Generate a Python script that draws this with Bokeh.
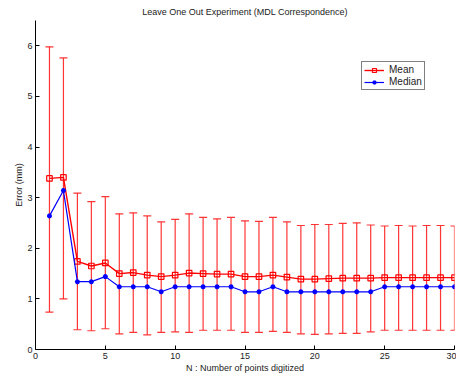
from bokeh.plotting import figure
from bokeh.models import Range1d, Legend, LegendItem, FixedTicker
from bokeh.embed import file_html
from bokeh.resources import INLINE

n_points = list(range(1, 31))
mean_err = [3.38, 3.40, 1.74, 1.65, 1.71, 1.50, 1.52, 1.47, 1.44, 1.47,
            1.51, 1.50, 1.49, 1.49, 1.44, 1.44, 1.47, 1.43, 1.39, 1.39,
            1.40, 1.41, 1.41, 1.41, 1.42, 1.42, 1.42, 1.42, 1.42, 1.42]
median_err = [2.64, 3.14, 1.34, 1.34, 1.44, 1.24, 1.24, 1.24, 1.14, 1.24,
              1.24, 1.24, 1.24, 1.24, 1.14, 1.14, 1.24, 1.14, 1.14, 1.14,
              1.14, 1.14, 1.14, 1.14, 1.24, 1.24, 1.24, 1.24, 1.24, 1.24]
upper_err = [5.98, 5.76, 3.09, 2.92, 3.02, 2.68, 2.70, 2.64, 2.52, 2.57,
             2.68, 2.61, 2.58, 2.61, 2.54, 2.53, 2.61, 2.52, 2.45, 2.47,
             2.47, 2.49, 2.50, 2.46, 2.44, 2.45, 2.44, 2.45, 2.45, 2.44]
lower_err = [0.74, 1.00, 0.39, 0.37, 0.41, 0.31, 0.34, 0.29, 0.34, 0.35,
             0.34, 0.38, 0.38, 0.38, 0.34, 0.34, 0.36, 0.34, 0.31, 0.30,
             0.31, 0.32, 0.32, 0.35, 0.38, 0.38, 0.38, 0.38, 0.38, 0.38]
x_ticks = [0, 5, 10, 15, 20, 25, 30]
y_ticks = [0, 1, 2, 3, 4, 5, 6]

FONT = "Liberation Sans"

p = figure(width=456, height=379, output_backend="svg", toolbar_location=None,
           x_range=Range1d(0, 30), y_range=Range1d(0, 6.5),
           min_border_left=35, min_border_right=2, min_border_top=20, min_border_bottom=30,
           title="Leave One Out Experiment (MDL Correspondence)")
p.outline_line_color = None
p.grid.visible = False
p.background_fill_color = "white"

p.title.align = "center"
p.title.text_font = FONT
p.title.text_font_size = "9px"
p.title.text_font_style = "normal"
p.title.text_color = "#222222"
p.title.standoff = 8
p.title.offset = 0

for ax, ticks in ((p.xaxis[0], x_ticks), (p.yaxis[0], y_ticks)):
    ax.ticker = FixedTicker(ticks=ticks)
    ax.major_tick_in = 4
    ax.major_tick_out = 0
    ax.minor_tick_line_color = None
    ax.axis_line_color = "black"
    ax.major_tick_line_color = "black"
    ax.major_label_text_font = FONT
    ax.major_label_text_font_size = "9px"
    ax.major_label_text_color = "#222222"
    ax.axis_label_text_font = FONT
    ax.axis_label_text_font_size = "9px"
    ax.axis_label_text_font_style = "normal"
    ax.axis_label_text_color = "#222222"

p.xaxis.axis_label = "N : Number of points digitized"
p.yaxis.axis_label = "Error (mm)"
p.xaxis.major_label_standoff = 3
p.yaxis.major_label_standoff = 3
p.xaxis.axis_label_standoff = 1
p.yaxis.axis_label_standoff = 0

ERR = "#ff2020"
p.segment(x0=n_points, y0=lower_err, x1=n_points, y1=upper_err,
          line_color=ERR, line_width=1.2, line_alpha=0.9)
p.scatter(x=n_points, y=upper_err, marker="dash", size=8, line_color=ERR, line_width=1.2, line_alpha=0.9)
p.scatter(x=n_points, y=lower_err, marker="dash", size=8, line_color=ERR, line_width=1.2, line_alpha=0.9)

mean_line = p.line(n_points, mean_err, line_color="red", line_width=1.4)
mean_mk = p.scatter(n_points, mean_err, marker="square", size=5.5, line_color="red",
                    fill_color=None, line_width=1.2)
med_line = p.line(n_points, median_err, line_color="blue", line_width=1.2)
med_mk = p.scatter(n_points, median_err, marker="asterisk", size=5, line_color="blue",
                   line_width=1.5)

legend = Legend(items=[LegendItem(label="Mean", renderers=[mean_line, mean_mk]),
                       LegendItem(label="Median", renderers=[med_line, med_mk])],
                location=(326, 259))
legend.label_text_font = FONT
legend.label_text_font_size = "10px"
legend.label_text_color = "#222222"
legend.border_line_color = "black"
legend.border_line_width = 1.5
legend.background_fill_alpha = 1
legend.padding = 2
legend.spacing = 1
legend.margin = 0
legend.glyph_width = 20
legend.glyph_height = 10
legend.label_height = 10
legend.label_standoff = 5
p.add_layout(legend, "center")

open("out.html", "w").write(file_html(p, INLINE))
